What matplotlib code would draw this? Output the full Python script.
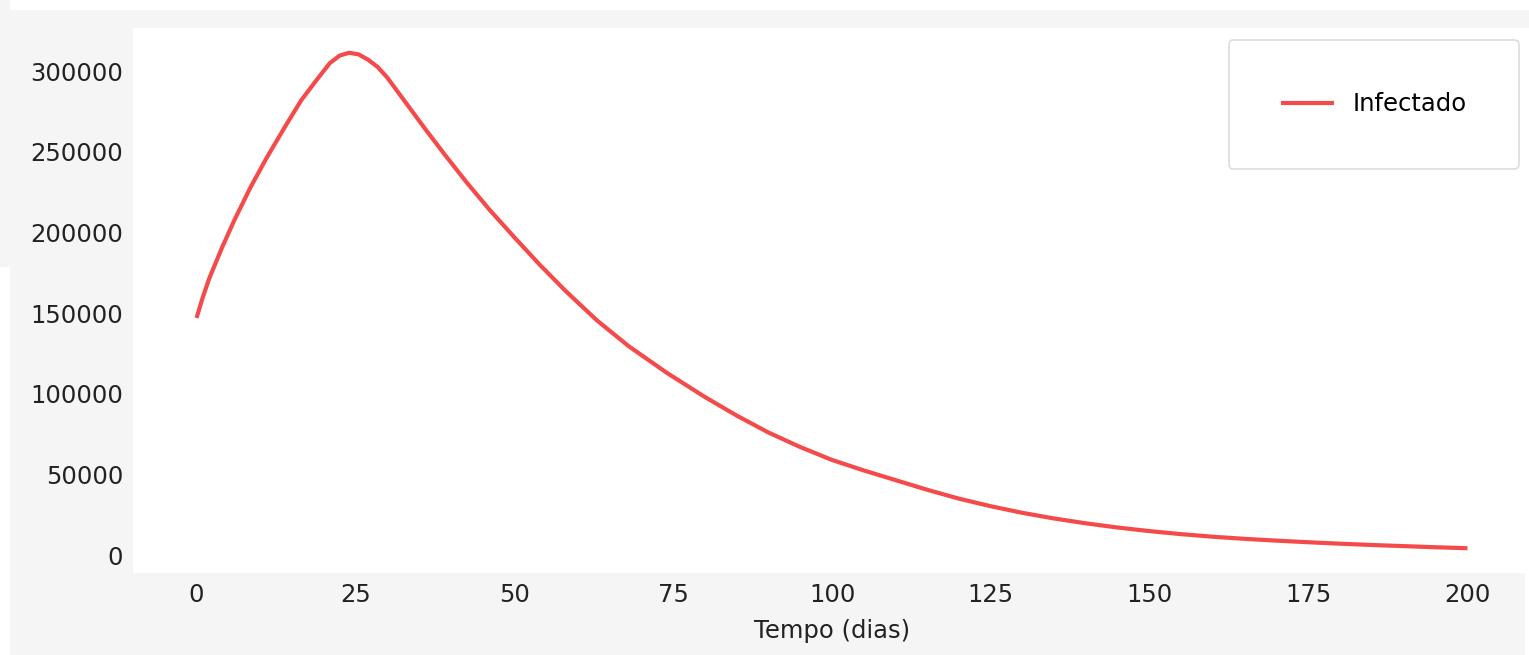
import matplotlib
matplotlib.use("Agg")
import matplotlib.pyplot as plt
from matplotlib.patches import Rectangle

# infected curve (days, people)
dias = [0, 1, 2, 4, 6, 8.5, 11, 14, 16.5, 19, 21, 22.5, 24, 25.5, 27, 28.5,
        30, 33, 36, 39, 42.5, 46, 50, 54, 58, 63, 68, 74, 80, 85, 90, 95, 100,
        105, 110, 115, 120, 125, 130, 135, 140, 145, 150, 155, 160, 165, 170,
        175, 180, 185, 190, 195, 200]
infectado = [147000, 160000, 171500, 190500, 208000, 228000, 246000, 266000,
             282000, 295000, 305000, 309500, 311300, 310300, 307000, 302500,
             296000, 280000, 264000, 248500, 231000, 214500, 197000, 180000,
             164000, 145500, 129500, 113000, 98000, 86500, 76000, 67000, 59000,
             52500, 46500, 40500, 35000, 30300, 26200, 22700, 19700, 17100,
             14900, 13000, 11400, 10100, 9000, 8000, 7100, 6300, 5600, 4900,
             4300]

x_ticks = [0, 25, 50, 75, 100, 125, 150, 175, 200]
y_ticks = [0, 50000, 100000, 150000, 200000, 250000, 300000]

W, H = 1529, 655
fig = plt.figure(figsize=(W / 100, H / 100), dpi=100, facecolor="#f5f5f5")

# screenshot edges that are plain white in the reference
for x0, y0, w, h in [(0, 267, 10, 388), (10, 0, 1519, 10), (1525, 50, 4, 605)]:
    fig.patches.append(Rectangle((x0 / W, 1 - (y0 + h) / H), w / W, h / H,
                                 transform=fig.transFigure, facecolor="white",
                                 edgecolor="none", zorder=-1))

ax = fig.add_axes([133 / W, 82 / H, (1531 - 133) / W, (573 - 28) / H])
ax.set_facecolor("white")
ax.plot(dias, infectado, color="#f44a4a", lw=3, label="Infectado",
        solid_capstyle="butt", solid_joinstyle="round")

ax.set_xticks(x_ticks)
ax.set_yticks(y_ticks)
ax.tick_params(length=0, pad=7, labelsize=17.5, colors="#222222")
for s in ax.spines.values():
    s.set_visible(False)
ax.set_xlabel("Tempo (dias)", fontsize=17.5, color="#222222", labelpad=9)

leg = ax.legend(loc="upper right", fontsize=17.5, borderpad=2.15,
                handlelength=2.2, handletextpad=0.75, fancybox=True,
                framealpha=1, edgecolor="#dddddd")
leg.get_frame().set_linewidth(1.2)

fig.savefig("out.png", dpi=100, facecolor=fig.get_facecolor())
